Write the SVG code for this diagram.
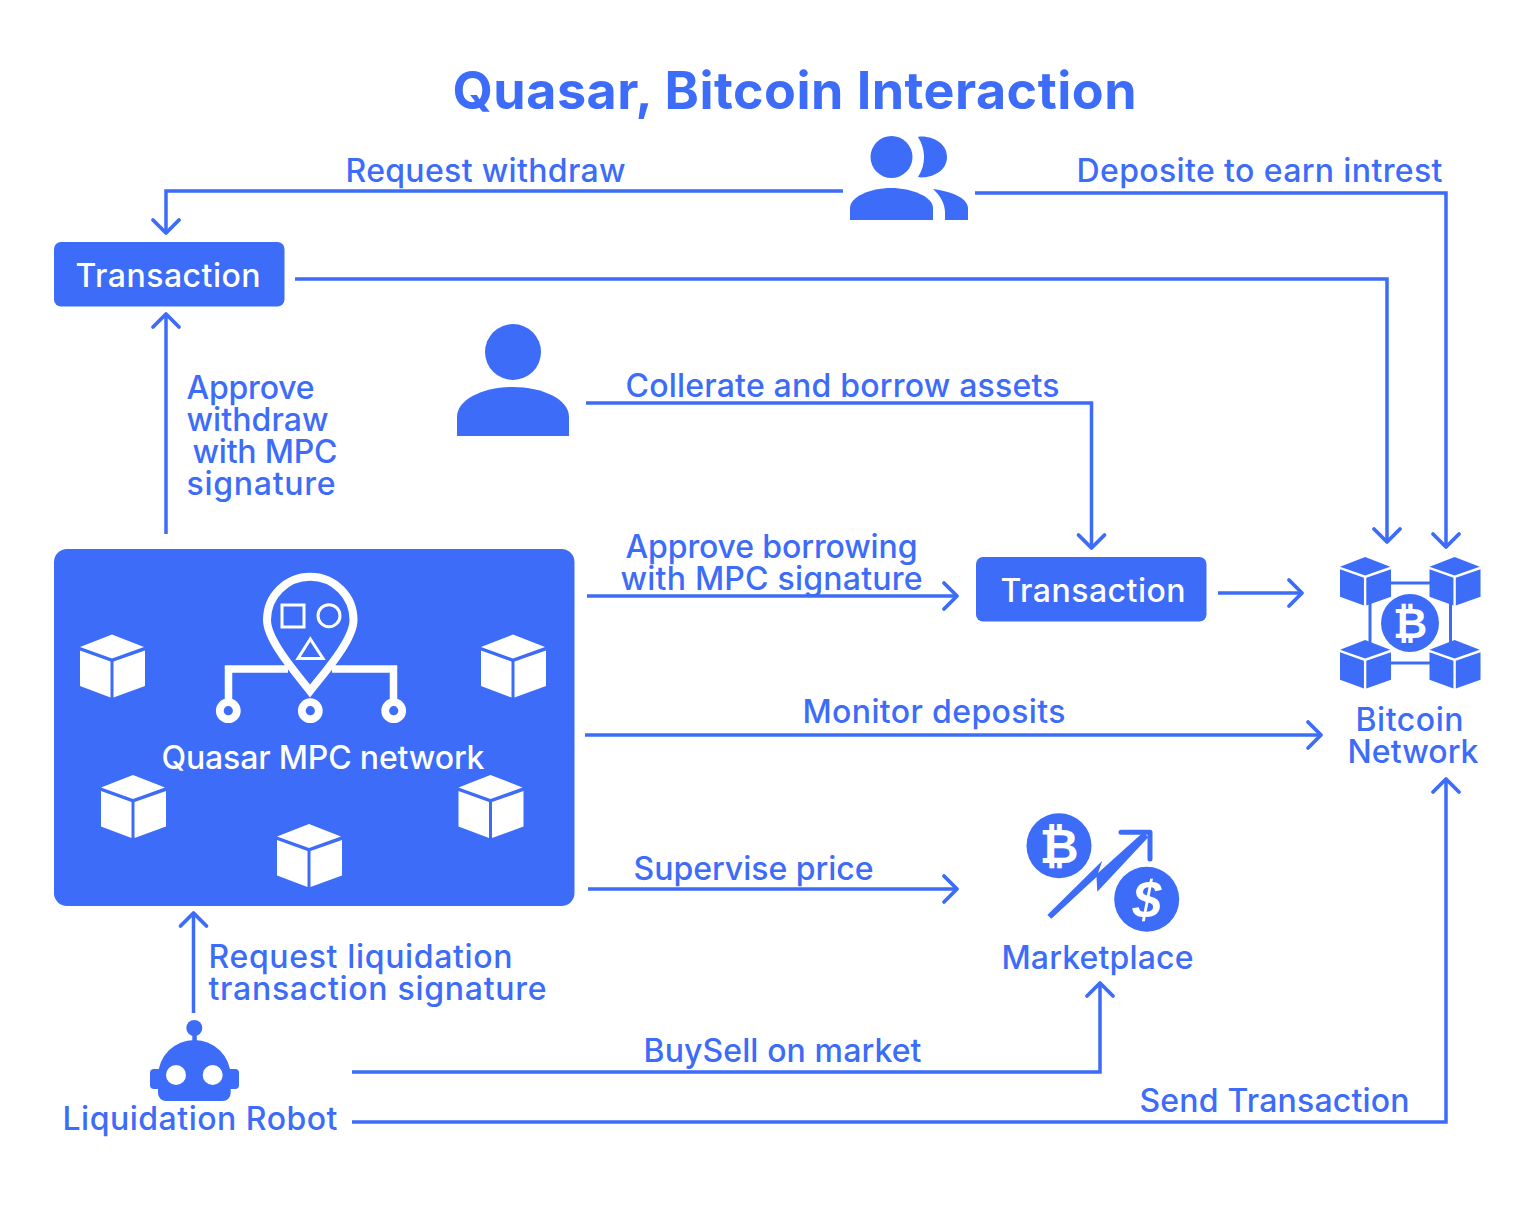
<svg xmlns="http://www.w3.org/2000/svg" width="1539" height="1220" viewBox="0 0 1539 1220">
<style>
text{font-family:Inter,"Liberation Sans",sans-serif;font-weight:500;font-size:32px;fill:#3d6cf8}
.title{font-size:52px;font-weight:700}
.w{fill:#fff}
.b{fill:#3d6cf8}
.c{fill:none;stroke:#3d6cf8;stroke-width:3.500;marker-end:url(#a)}
.s{fill:none;stroke:#fff}
.f{fill:none;stroke:#3d6cf8;stroke-width:3}
.i{font-family:"DejaVu Sans",sans-serif;font-weight:700;text-anchor:middle}
</style>
<defs>
<marker id="a" markerUnits="userSpaceOnUse" markerWidth="40" markerHeight="40" refX="20" refY="20" orient="auto" viewBox="0 0 40 40"><path d="M7 7L20 20L7 33" fill="none" stroke="#3d6cf8" stroke-width="3.800" stroke-linecap="round" stroke-linejoin="round"/></marker>
<g id="cube"><path d="M32 0L64 12.500L32 24L0 12.500Z"/><path d="M0 16L30.500 27V63L0 51.500Z"/><path d="M33.500 27L65 16V51.500L33.500 63Z"/></g>
</defs>
<text class="title" x="452.500" y="108.500" textLength="684">Quasar, Bitcoin Interaction</text>
<g id="connectors">
<path class="c" d="M843 191H166V233"/>
<path class="c" d="M975 193H1446V547"/>
<path class="c" d="M295 279H1387V542"/>
<path class="c" d="M166 534V314"/>
<path class="c" d="M586 403H1091.500V548"/>
<path class="c" d="M587 596H957"/>
<path class="c" d="M1218 593H1302"/>
<path class="c" d="M585 735H1321"/>
<path class="c" d="M588 889H957"/>
<path class="c" d="M193.500 1013V913"/>
<path class="c" d="M352 1072H1100V983"/>
<path class="c" d="M352 1122H1446V779"/>
</g>
<g id="labels" transform="translate(-.5 .5)">
<text x="346" y="181" textLength="280">Request withdraw</text>
<text x="1077" y="181" textLength="366">Deposite to earn intrest</text>
<text x="187" y="398" textLength="128">Approve</text>
<text x="187" y="430" textLength="142">withdraw</text>
<text x="193" y="462" textLength="145">with MPC</text>
<text x="187" y="494" textLength="149">signature</text>
<text x="626" y="396" textLength="434">Collerate and borrow assets</text>
<text x="626" y="557" textLength="292">Approve borrowing</text>
<text x="621" y="589" textLength="302">with MPC signature</text>
<text x="803" y="722" textLength="263">Monitor deposits</text>
<text x="634" y="879" textLength="240">Supervise price</text>
<text x="209" y="967" textLength="304">Request liquidation</text>
<text x="209" y="999" textLength="338">transaction signature</text>
<text x="644" y="1061" textLength="278">BuySell on market</text>
<text x="1140" y="1111" textLength="270">Send Transaction</text>
</g>
<g id="users" class="b">
<circle cx="891.500" cy="157" r="21"/>
<path d="M850 220V208C850 197 870 188 891 188S933 197 933 208V220Z"/>
<path d="M918 137C926 135 947 140 947 157S926 179 918 177C926 165 926 149 918 137Z"/>
<path d="M933 189C950 191 968 198 968 208V220H945V212C945 204 940 195 933 189Z"/>
</g>
<g id="tx1"><rect class="b" x="54" y="242" width="230.500" height="64.500" rx="7"/><text class="w" x="75.500" y="286.500" textLength="185">Transaction</text></g>
<g id="borrower" class="b"><circle cx="513" cy="352" r="28"/><path d="M457 436V417C457 399 484 387 513 387S569 399 569 417V436Z"/></g>
<g id="mpc">
<rect class="b" x="54" y="549" width="520.500" height="357" rx="13"/>
<g class="w"><use href="#cube" x="80" y="634.500"/><use href="#cube" x="481" y="634.500"/><use href="#cube" x="101" y="775"/><use href="#cube" x="458.500" y="775"/><use href="#cube" x="277" y="824"/></g>
<path class="s" stroke-width="8" d="M310 691C295 672 267 640 267 620A43.200 43.200 0 0 1 353.500 620C353.500 640 325 672 310 691Z"/>
<path class="s" stroke-width="7.500" d="M228.500 702V669H288M332 669H393.500V702"/>
<rect class="s" stroke-width="3" x="282" y="605" width="22" height="22"/>
<circle class="s" stroke-width="3" cx="329" cy="615.700" r="11"/>
<path class="s" stroke-width="3" d="M310.300 639L298 658.500H323Z"/>
<g class="s" stroke-width="7.800"><circle cx="228.300" cy="710.700" r="8.500"/><circle cx="310.300" cy="710.700" r="8.500"/><circle cx="393.700" cy="710.700" r="8.500"/></g>
<text class="w" x="161.500" y="768.500" textLength="323">Quasar MPC network</text>
</g>
<g id="tx2"><rect class="b" x="976" y="557" width="230.500" height="64.500" rx="7"/><text class="w" x="1000.500" y="601.500" textLength="185">Transaction</text></g>
<g id="bitcoin">
<path class="f" d="M1388 583H1432M1370 600V650M1388 663H1432M1450.500 600V650"/>
<g class="b"><use href="#cube" transform="translate(1340 557) scale(.785 .77)"/><use href="#cube" transform="translate(1429.500 557) scale(.785 .77)"/><use href="#cube" transform="translate(1340 640) scale(.785 .77)"/><use href="#cube" transform="translate(1429.500 640) scale(.785 .77)"/></g>
<circle class="b" cx="1410" cy="623" r="29"/>
<text class="w i" x="1410" y="638" style="font-size:42px">₿</text>
<text x="1355.500" y="730.500" textLength="108">Bitcoin</text>
<text x="1347.500" y="762.500" textLength="131">Network</text>
</g>
<g id="marketplace">
<circle class="b" cx="1059" cy="845.700" r="32.500"/>
<text class="w i" x="1059" y="863" style="font-size:48px">₿</text>
<circle class="b" cx="1146.700" cy="899.300" r="32.500"/>
<text class="w" x="1147" y="918" text-anchor="middle" style="font-family:'Liberation Sans',sans-serif;font-size:52px;font-style:italic;font-weight:700">$</text>
<path class="b" d="M1047.300 915L1102.300 860.700L1098 873L1143.300 832.300L1148.300 837.300L1097.300 891.700L1096.500 877L1051.300 918.700Z"/>
<path d="M1121 832.300H1150V859" fill="none" stroke="#3d6cf8" stroke-width="5" stroke-linecap="round" stroke-linejoin="round"/>
<text x="1001.500" y="968.500" textLength="192">Marketplace</text>
</g>
<g id="robot" class="b">
<circle cx="194.300" cy="1028" r="8"/>
<rect x="192.300" y="1034" width="4.500" height="8"/>
<path d="M158 1076A36.300 36.300 0 0 1 194.300 1040A36.300 36.300 0 0 1 230.700 1076V1093A8 8 0 0 1 222.700 1101H166A8 8 0 0 1 158 1093Z"/>
<rect x="150" y="1069" width="12" height="20" rx="4"/><rect x="227" y="1069" width="12" height="20" rx="4"/>
<circle class="w" cx="176" cy="1075" r="10"/><circle class="w" cx="212.700" cy="1075" r="10"/>
<text x="62.500" y="1129.500" textLength="275">Liquidation Robot</text>
</g>
</svg>
